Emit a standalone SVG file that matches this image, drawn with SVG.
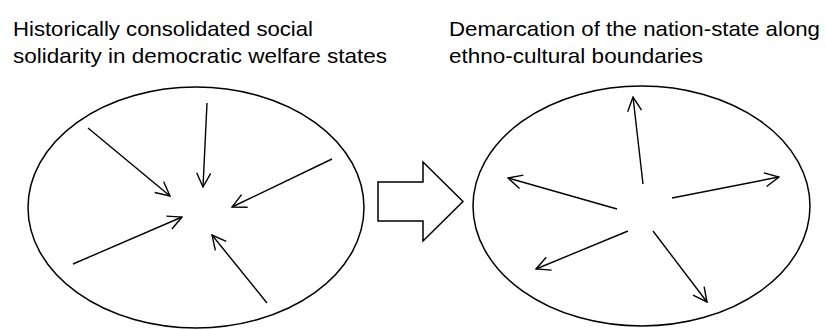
<svg xmlns="http://www.w3.org/2000/svg" width="826" height="330" viewBox="0 0 826 330">
  <style>
    .label { font-family: "Liberation Sans", Arial, sans-serif; font-size: 21px; fill: #000; }
    .ring { fill: #fff; stroke: #000; stroke-width: 1.5; }
    .ray { stroke: #000; stroke-width: 1.4; fill: none; marker-end: url(#open); }
    .shift { fill: #fff; stroke: #000; stroke-width: 1.5; stroke-linejoin: miter; }
  </style>
  <defs>
    <marker id="open" viewBox="0 0 16 16" refX="15" refY="8" markerWidth="16" markerHeight="16" markerUnits="userSpaceOnUse" orient="auto">
      <path d="M1,1 L15,8 L1,15" fill="none" stroke="#000" stroke-width="1.4"/>
    </marker>
  </defs>
  <rect width="826" height="330" fill="#fff"/>

  <!-- Captions -->
  <g id="caption-left">
    <text class="label" x="13" y="36" textLength="300" lengthAdjust="spacingAndGlyphs">Historically consolidated social</text>
    <text class="label" x="13" y="63" textLength="374" lengthAdjust="spacingAndGlyphs">solidarity in democratic welfare states</text>
  </g>
  <g id="caption-right">
    <text class="label" x="449" y="36" textLength="371" lengthAdjust="spacingAndGlyphs">Demarcation of the nation-state along</text>
    <text class="label" x="449" y="63" textLength="254" lengthAdjust="spacingAndGlyphs">ethno-cultural boundaries</text>
  </g>

  <!-- Converging state -->
  <g id="solidarity">
    <ellipse class="ring" cx="196" cy="207.5" rx="168" ry="120.5"/>
  </g>

  <!-- Transition arrow -->
  <g id="transition">
    <polygon class="shift" points="378,182 423,182 423,162 463,201.5 423,241 423,221 378,221"/>
  </g>

  <!-- Diverging state -->
  <g id="demarcation">
    <ellipse class="ring" cx="641.5" cy="206" rx="168.5" ry="120"/>
  </g>

  <g id="connectors">
    <!-- inward -->
    <line class="ray" x1="88" y1="128" x2="170" y2="196"/>
    <line class="ray" x1="207" y1="103" x2="203" y2="187"/>
    <line class="ray" x1="332" y1="159" x2="232" y2="207"/>
    <line class="ray" x1="73" y1="264" x2="182" y2="217"/>
    <line class="ray" x1="267" y1="303" x2="212" y2="235"/>
    <!-- outward -->
    <line class="ray" x1="643" y1="184" x2="633" y2="97"/>
    <line class="ray" x1="617" y1="209" x2="508" y2="178"/>
    <line class="ray" x1="672" y1="198" x2="779" y2="177"/>
    <line class="ray" x1="628" y1="231" x2="536" y2="269"/>
    <line class="ray" x1="653" y1="231" x2="707" y2="302"/>
  </g>
</svg>
